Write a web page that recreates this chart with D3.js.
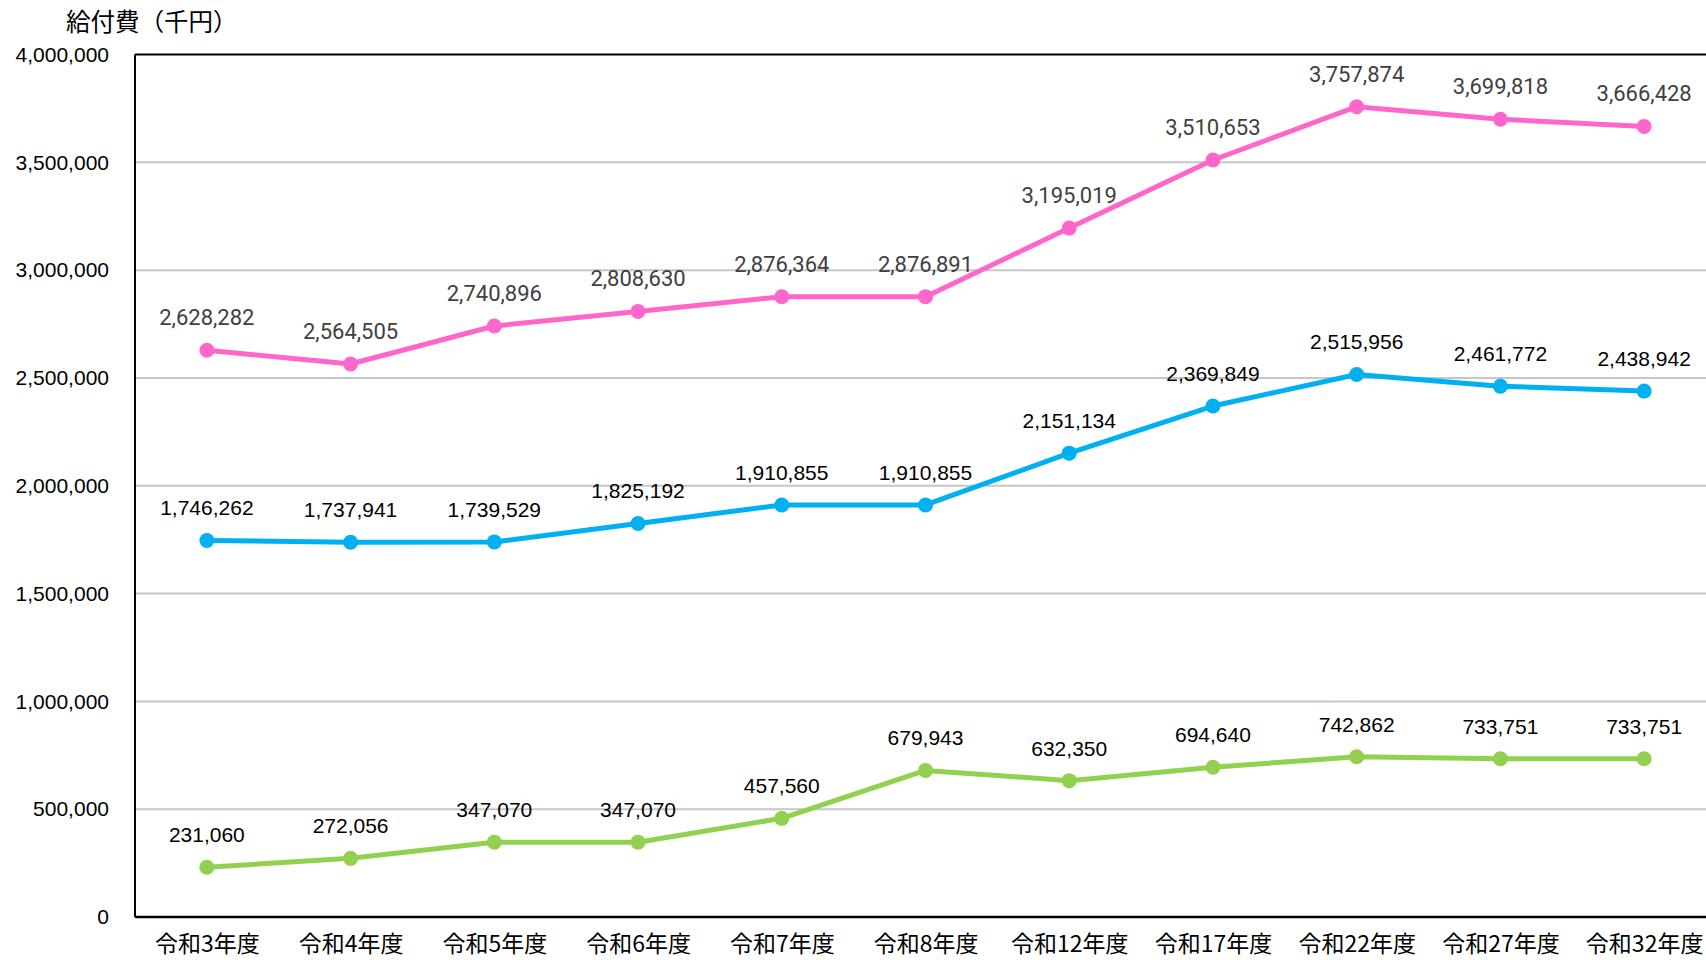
<!DOCTYPE html>
<html><head><meta charset="utf-8">
<script src="https://cdn.jsdelivr.net/npm/d3@7"></script>
<style>
body{margin:0;background:#fff;}
svg{display:block;}
</style></head>
<body>
<svg id="chart" width="1706" height="960"></svg>
<script>
const categories = ["令和3年度","令和4年度","令和5年度","令和6年度","令和7年度","令和8年度","令和12年度","令和17年度","令和22年度","令和27年度","令和32年度"];
const pinkValues = [2628282,2564505,2740896,2808630,2876364,2876891,3195019,3510653,3757874,3699818,3666428];
const blueValues = [1746262,1737941,1739529,1825192,1910855,1910855,2151134,2369849,2515956,2461772,2438942];
const greenValues = [231060,272056,347070,347070,457560,679943,632350,694640,742862,733751,733751];
const yTicks = [0,500000,1000000,1500000,2000000,2500000,3000000,3500000,4000000];
const yTitle = "給付費（千円）";

(function(){
const svg = d3.select("#chart");
const pL = 135, pR = 1716, pT = 54.5, pB = 917;
const x = d3.scalePoint().domain(categories).range([pL, pR]).padding(0.5);
const y = d3.scaleLinear().domain([0, 4000000]).range([pB, pT]);
const fmt = d3.format(",");

// gridlines
svg.append("g").selectAll("line").data(yTicks.filter(d => d > 0 && d < 4000000)).join("line")
  .attr("x1", pL).attr("x2", pR).attr("y1", d => y(d)).attr("y2", d => y(d))
  .attr("stroke", "#c6c6c6").attr("stroke-width", 2);

// frame
svg.append("line").attr("x1", pL).attr("x2", pR).attr("y1", y(4000000)).attr("y2", y(4000000)).attr("stroke", "#000").attr("stroke-width", 2);
svg.append("line").attr("x1", pL).attr("x2", pR).attr("y1", y(0)).attr("y2", y(0)).attr("stroke", "#000").attr("stroke-width", 2.5);
svg.append("line").attr("x1", pL).attr("x2", pL).attr("y1", y(4000000)).attr("y2", y(0)).attr("stroke", "#000").attr("stroke-width", 2);

// y axis labels
const yAxis = d3.axisLeft(y).tickValues(yTicks).tickFormat(fmt).tickSize(0).tickPadding(26);
const ya = svg.append("g").attr("transform", `translate(${pL},0)`).call(yAxis);
ya.select(".domain").remove();
ya.selectAll("text").attr("font-family", "'Liberation Sans', Arial, sans-serif").attr("font-size", 21).attr("fill", "#000");

// x axis labels
const xAxis = d3.axisBottom(x).tickSize(0).tickPadding(19);
const xa = svg.append("g").attr("transform", `translate(0,${pB})`).call(xAxis);
xa.select(".domain").remove();
xa.selectAll("text").attr("font-family", "'Noto Sans CJK JP', sans-serif").attr("font-size", 23).attr("fill", "#000");

// title
svg.append("text").attr("x", 66).attr("y", 31).text(yTitle)
  .attr("font-family", "'Noto Sans CJK JP', sans-serif").attr("font-size", 24.5).attr("fill", "#000");

const series = [
  {values: pinkValues, color: "#FF66CC", labelColor: "#404040", font: "Roboto, sans-serif", size: 22},
  {values: blueValues, color: "#00B0F0", labelColor: "#000", font: "'Liberation Sans', Arial, sans-serif", size: 21},
  {values: greenValues, color: "#92D050", labelColor: "#000", font: "'Liberation Sans', Arial, sans-serif", size: 21}
];
const line = d3.line().x((d, i) => x(categories[i])).y(d => y(d));
series.forEach(s => {
  const g = svg.append("g");
  g.append("path").attr("d", line(s.values)).attr("fill", "none").attr("stroke", s.color).attr("stroke-width", 5).attr("stroke-linejoin", "round");
  g.selectAll("circle").data(s.values).join("circle")
    .attr("cx", (d, i) => x(categories[i])).attr("cy", d => y(d)).attr("r", 7.5).attr("fill", s.color);
  g.selectAll("text").data(s.values).join("text")
    .attr("x", (d, i) => x(categories[i])).attr("y", d => y(d) - 25)
    .attr("text-anchor", "middle").attr("font-family", s.font).attr("font-size", s.size).attr("fill", s.labelColor)
    .text(d => fmt(d));
});
})();
</script>
</body></html>
